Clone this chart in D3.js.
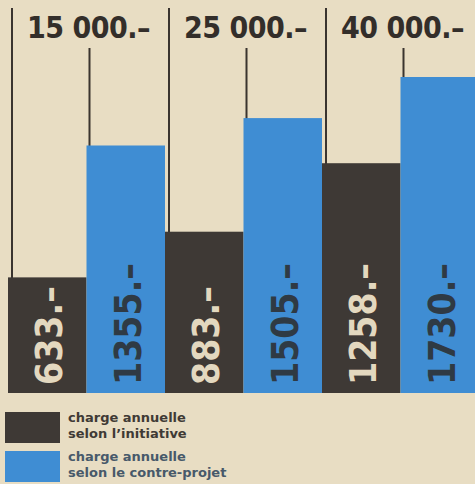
<!DOCTYPE html>
<html>
<head>
<meta charset="utf-8">
<script src="https://cdn.jsdelivr.net/npm/d3@7"></script>
<style>
  body { margin: 0; background: #e8ddc3; }
  svg { display: block; }
</style>
</head>
<body>
<div id="chart"></div>
<script>
var svgWidth = 475;
var svgHeight = 484;

// data
var incomes = ["15 000", "25 000", "40 000"];
var initiative = [633, 883, 1258];
var contreProjet = [1355, 1505, 1730];
var legendLabels = [
  ["charge annuelle", "selon l\u2019initiative"],
  ["charge annuelle", "selon le contre-projet"]
];

var darkCol = "#3e3935";
var blueCol = "#3f8dd3";
var inkCol = "#3a342f";
var condensed = "'Liberation Sans Narrow', 'DejaVu Sans Condensed', 'Liberation Sans', sans-serif";

var margin = {top: 8, right: 0, bottom: 91, left: 8};
var baseY = svgHeight - margin.bottom; // 393

var svg = d3.select("#chart")
  .append("svg")
  .attr("width", svgWidth)
  .attr("height", svgHeight);

svg.append("rect")
  .attr("width", svgWidth).attr("height", svgHeight)
  .attr("fill", "#e8ddc3");

var x0 = d3.scaleBand()
  .domain(incomes)
  .range([margin.left, svgWidth + 4])
  .padding(0);

var x1 = d3.scaleBand()
  .domain(["init", "contre"])
  .range([0, x0.bandwidth()])
  .padding(0);

var y = d3.scaleLinear()
  .domain([0, 1730])
  .range([baseY, 77]);

var rows = incomes.map(function(inc, i) {
  return [
    {inc: inc, key: "init", v: initiative[i]},
    {inc: inc, key: "contre", v: contreProjet[i]}
  ];
});

// group separator lines (long) and inner lines (short)
incomes.forEach(function(inc) {
  svg.append("line")
    .attr("x1", x0(inc) + 4).attr("x2", x0(inc) + 4)
    .attr("y1", 8).attr("y2", baseY)
    .attr("stroke", inkCol).attr("stroke-width", 2);
  svg.append("line")
    .attr("x1", x0(inc) + x1("contre") + 3).attr("x2", x0(inc) + x1("contre") + 3)
    .attr("y1", 48).attr("y2", baseY)
    .attr("stroke", inkCol).attr("stroke-width", 2);
});

var groups = svg.selectAll("g.grp")
  .data(rows)
  .enter()
  .append("g")
  .attr("class", "grp")
  .attr("transform", function(d) { return "translate(" + x0(d[0].inc) + ",0)"; });

groups.selectAll("rect")
  .data(function(d) { return d; })
  .enter()
  .append("rect")
  .attr("x", function(d) { return x1(d.key); })
  .attr("width", x1.bandwidth())
  .attr("y", function(d) { return y(d.v); })
  .attr("height", function(d) { return baseY - y(d.v); })
  .attr("fill", function(d) { return d.key === "init" ? darkCol : blueCol; });

groups.selectAll("text.val")
  .data(function(d) { return d; })
  .enter()
  .append("text")
  .attr("class", "val")
  .attr("transform", function(d) {
    return "translate(" + (x1(d.key) + x1.bandwidth() / 2 + 15) + "," + (baseY - 8) + ") rotate(-90)";
  })
  .attr("font-family", condensed)
  .attr("font-weight", "bold")
  .attr("font-size", 37)
  .attr("fill", function(d) { return d.key === "init" ? "#e3d8bf" : "#2f3a44"; })
  .text(function(d) { return d.v + ".\u2013"; });

// header labels
svg.selectAll("text.head")
  .data(incomes)
  .enter()
  .append("text")
  .attr("class", "head")
  .attr("x", function(d) { return x0(d) + 4 + (x0.bandwidth() - 4) / 2; })
  .attr("y", 38)
  .attr("text-anchor", "middle")
  .attr("font-family", condensed)
  .attr("font-weight", "bold")
  .attr("font-size", 30)
  .attr("letter-spacing", -0.5)
  .attr("fill", "#332e2a")
  .text(function(d) { return d + ".\u2013"; });

// legend
var legend = svg.selectAll("g.leg")
  .data(legendLabels)
  .enter()
  .append("g")
  .attr("class", "leg")
  .attr("transform", function(d, i) { return "translate(5," + (412 + i * 39) + ")"; });

legend.append("rect")
  .attr("width", 55).attr("height", 31)
  .attr("fill", function(d, i) { return i === 0 ? darkCol : blueCol; });

legend.each(function(d, i) {
  var t = d3.select(this).append("text")
    .attr("font-family", "'DejaVu Sans', sans-serif")
    .attr("font-size", 13)
    .attr("font-weight", 600)
    .attr("fill", i === 0 ? "#3f3a35" : "#47596a");
  d.forEach(function(line, j) {
    t.append("tspan").attr("x", 63).attr("y", 10 + j * 15.5).text(line);
  });
});
</script>
</body>
</html>
